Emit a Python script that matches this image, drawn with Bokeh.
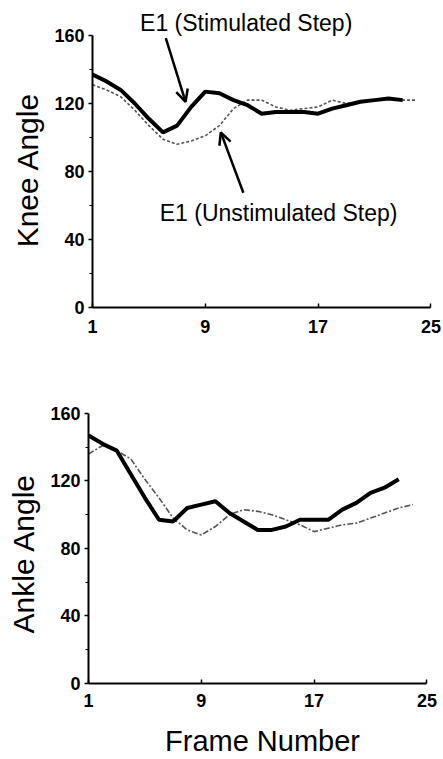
from bokeh.plotting import figure
from bokeh.models import Range1d, Label, Arrow, OpenHead, FixedTicker
from bokeh.layouts import column, row
from bokeh.embed import file_html
from bokeh.resources import INLINE

# ---- data ----
frames_stim = list(range(1, 24))
frames_unstim = list(range(1, 25))
knee_stim = [137, 133, 128, 120, 111, 103, 107, 118, 127, 126, 122, 119, 114, 115, 115, 115, 114, 117, 119, 121, 122, 123, 122]
knee_unstim = [131, 128, 124, 116, 107, 99, 96, 98, 101, 107, 117, 122, 122, 118, 116, 117, 118, 122, 120, 121, 122, 123, 122, 122]
ankle_stim = [147, 142, 138, 124, 110, 97, 96, 104, 106, 108, 101, 96, 91, 91, 93, 97, 97, 97, 103, 107, 113, 116, 121]
ankle_unstim = [136, 141, 138, 133, 121, 110, 98, 91, 88, 93, 100, 103, 102, 100, 97, 94, 90, 92, 94, 95, 98, 101, 104, 106]
x_ticks = [1, 9, 17, 25]
y_ticks = [0, 40, 80, 120, 160]
y_minor = [20, 60, 100, 140]
label_stim = "E1 (Stimulated Step)"
label_unstim = "E1 (Unstimulated Step)"
knee_title = "Knee Angle"
ankle_title = "Ankle Angle"
x_title = "Frame Number"

FONT = "Liberation Sans"
TW = 45  # width of the strip that holds the vertical axis titles


def make(width, height, left, right, bottom, xend, yend, standoff):
    p = figure(width=width, height=height,
               x_range=Range1d(1, xend), y_range=Range1d(0, yend),
               output_backend="svg", toolbar_location=None,
               min_border_left=left, min_border_right=right,
               min_border_top=0, min_border_bottom=bottom)
    p.outline_line_color = None
    p.grid.visible = False
    xa = p.xaxis[0]
    ya = p.yaxis[0]
    xa.ticker = FixedTicker(ticks=x_ticks)
    xa.bounds = (1, 25)
    ya.ticker = FixedTicker(ticks=y_ticks, minor_ticks=y_minor)
    ya.bounds = (0, 160)
    for a in (xa, ya):
        a.axis_line_width = 2
        a.axis_line_color = "black"
        a.major_label_text_font = FONT
        a.major_label_text_font_size = "18px"
        a.major_label_text_font_style = "bold"
        a.major_label_text_color = "black"
        a.major_tick_line_width = 1.5
        a.minor_tick_line_width = 1.2
    xa.major_tick_in = 4
    xa.major_tick_out = 0
    xa.minor_tick_in = 0
    xa.minor_tick_out = 0
    xa.major_label_standoff = standoff
    ya.major_tick_in = 0
    ya.major_tick_out = 4
    ya.minor_tick_in = 0
    ya.minor_tick_out = 3
    ya.major_label_standoff = 4
    return p


def text_strip(width, height):
    t = figure(width=width, height=height, x_range=Range1d(0, width), y_range=Range1d(0, height),
               output_backend="svg", toolbar_location=None, x_axis_type=None, y_axis_type=None,
               min_border=0)
    t.outline_line_color = None
    t.grid.visible = False
    return t


# ---- top: knee ----
p1 = make(443 - TW, 350, 92 - TW, 6, 43, 1 + 345 / 14.1, 180.6, 12)
p1.line(frames_unstim, knee_unstim, line_color="#555555", line_width=1.6, line_dash="3 2")
p1.line(frames_stim, knee_stim, line_color="black", line_width=4)
p1.add_layout(Label(x=11.9, y=167.6, text=label_stim, text_align="center", text_baseline="middle",
                    text_font=FONT, text_font_size="23px", text_color="black"))
p1.add_layout(Label(x=14.2, y=55.3, text=label_unstim, text_align="center", text_baseline="middle",
                    text_font=FONT, text_font_size="23px", text_color="black"))
p1.add_layout(Arrow(end=OpenHead(size=12, line_width=2.5), x_start=6.2, y_start=158.5,
                    x_end=7.6, y_end=121, line_width=2.5))
p1.add_layout(Arrow(end=OpenHead(size=12, line_width=2.5), x_start=11.7, y_start=67.5,
                    x_end=10.1, y_end=103, line_width=2.5))

t1 = text_strip(TW, 350)
t1.add_layout(Label(x=27, y=157, text=knee_title, angle=1.5708, text_align="center",
                    text_baseline="middle", text_font=FONT, text_font_size="30px", text_color="black"))

# ---- bottom: ankle ----
p2 = make(443 - TW, 366, 88 - TW, 13, 33, 1 + 342 / 14.1, 197.3, 10)
p2.line(frames_unstim, ankle_unstim, line_color="#555555", line_width=1.6, line_dash="6 2 2 2")
p2.line(frames_stim, ankle_stim, line_color="black", line_width=4)

t2 = text_strip(TW, 366)
t2.add_layout(Label(x=23, y=143, text=ankle_title, angle=1.5708, text_align="center",
                    text_baseline="middle", text_font=FONT, text_font_size="30px", text_color="black"))

# ---- x title ----
t3 = text_strip(443, 43)
t3.add_layout(Label(x=262, y=19, text=x_title, text_align="center", text_baseline="middle",
                    text_font=FONT, text_font_size="29px", text_color="black"))

layout = column(row(t1, p1, spacing=0), row(t2, p2, spacing=0), t3, spacing=0)
open("out.html", "w").write(file_html(layout, INLINE))
